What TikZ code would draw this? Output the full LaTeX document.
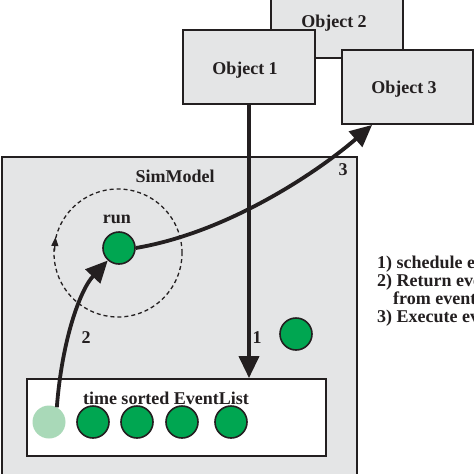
\documentclass[tikz,border=0pt]{standalone}
\usepackage{fontspec}
\setmainfont{Liberation Serif}
\usetikzlibrary{arrows.meta,calc}
\definecolor{boxgray}{HTML}{E4E5E6}
\definecolor{ink}{HTML}{231F20}
\definecolor{evgreen}{HTML}{00A651}
\definecolor{evlight}{HTML}{A9D9B8}
\tikzset{
  lbl/.style={font=\bfseries\fontsize{18}{18}\selectfont, text=ink, inner sep=0pt},
  objbox/.style={draw=ink, line width=1.8pt, fill=boxgray, minimum width=132pt, minimum height=74pt, inner sep=0pt},
  event/.style={circle, draw=ink, line width=1.6pt, fill=evgreen, minimum size=32pt, inner sep=0pt},
  doneevent/.style={circle, fill=evlight, minimum size=33pt, inner sep=0pt},
  bigarrow/.style={draw=ink, line width=3.8pt, -{Triangle[length=22pt,width=20pt]}},
}
\begin{document}
\begin{tikzpicture}[x=1pt,y=-1pt]
\useasboundingbox (0,0) rectangle (474,474);
\begin{scope}
\clip (0,0) rectangle (474,474);
% SimModel frame
\node[draw=ink, line width=1.8pt, fill=boxgray, minimum width=355pt, minimum height=343pt, inner sep=0pt] (sim) at (179.5,328.5) {};
\node[lbl] (simlbl) at (175,176) {SimModel};
% objects
\node[objbox] (obj2) at (337,21) {};
\node[lbl] (obj2lbl) at (334,23) {Object 2};
\node[objbox] (obj1) at (249,67) {};
\node[lbl] (obj1lbl) at (245,70) {Object 1};
\node[objbox, minimum width=131pt] (obj3) at (407.5,87) {};
\node[lbl] (obj3lbl) at (404,89) {Object 3};
% event list
\node[draw=ink, line width=1.8pt, fill=white, minimum width=299pt, minimum height=77pt, inner sep=0pt] (evl) at (176.5,417.5) {};
\node[lbl] (evllbl) at (166,398) {time sorted EventList};
\node[doneevent] (e0) at (49,422) {};
\node[event] (e1) at (93,422) {};
\node[event] (e2) at (137,422) {};
\node[event] (e3) at (182,422) {};
\node[event] (e4) at (231,422) {};
% free event
\node[event] (enew) at (296,334) {};
% run loop
\coordinate (loopc) at (118,253);
\draw[ink, dashed, dash pattern=on 4pt off 3pt, line width=1.3pt] (loopc) circle[radius=64pt];
\coordinate (loopa) at (54.5,251);
\coordinate (loopb) at (55.5,237);
\draw[ink, line width=1.3pt, -{Triangle[length=9pt,width=7pt]}] (loopa) -- (loopb);
\node[event] (run) at (119,248) {};
\node[lbl] (runlbl) at (117,219) {run};
% arrows
\draw[bigarrow] (obj1.south) -- (obj1.south |- evl.north);
\draw[bigarrow] (e0.62) .. controls (62,340) and (80,290) .. (run.228);
\coordinate (obj3tip) at ([xshift=31pt]obj3.south west);
\draw[bigarrow] (run.east) .. controls (230,232) and (320,170) .. (obj3tip);
\node[lbl] (l1) at (257,338) {1};
\node[lbl] (l2) at (86,338) {2};
\node[lbl] (l3) at (343,170) {3};
% legend
\node[lbl, anchor=north west, align=left] (legend) at (377,255.5) {1) schedule event\\2) Return event\\\hspace*{16pt}from eventList\\3) Execute event};
\end{scope}
\end{tikzpicture}
\end{document}
